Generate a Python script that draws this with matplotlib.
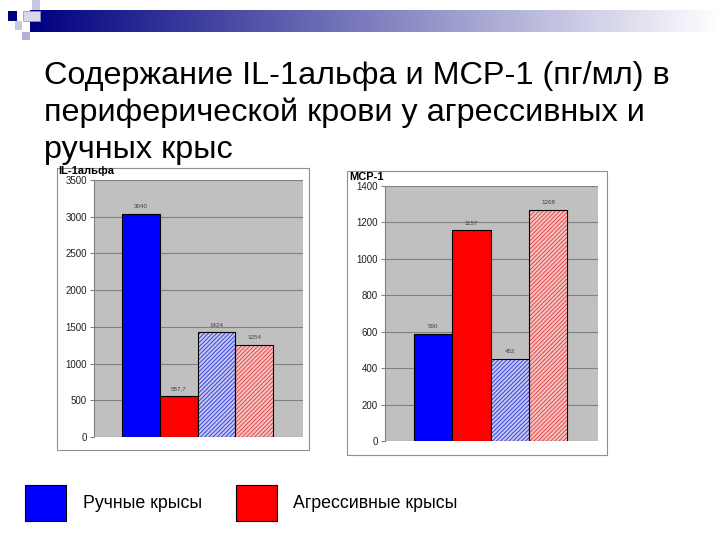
import numpy as np
import matplotlib
matplotlib.use("Agg")
import matplotlib.pyplot as plt
import matplotlib.patches as patches

plt.rcParams['font.family'] = ['Liberation Sans', 'DejaVu Sans']
plt.rcParams['hatch.linewidth'] = 0.7

# data
title_lines = ["Содержание IL-1альфа и МСР-1 (пг/мл) в",
               "периферической крови у агрессивных и",
               "ручных крыс"]
bars = ["blue", "red", "blue hatched", "red hatched"]
il1_values = [3040, 557.7, 1424, 1254]
il1_labels = ["3040", "557,7", "1424", "1254"]
mcp_values = [590, 1157, 452, 1268]
mcp_labels = ["590", "1157", "452", "1268"]
legend_names = ["Ручные крысы", "Агрессивные крысы"]

W, H = 720, 540
fig = plt.figure(figsize=(7.2, 5.4), dpi=100)


def px_rect(x0, y0, x1, y1, z=1, **kw):
    # rectangle in pixel coords (origin top-left)
    r = patches.Rectangle((x0 / W, 1 - y1 / H), (x1 - x0) / W, (y1 - y0) / H,
                          transform=fig.transFigure, zorder=z, **kw)
    fig.add_artist(r)
    return r


# ── header decoration ──
grad = np.linspace(0, 1, 256).reshape(1, -1)
gax = fig.add_axes([30 / W, 1 - 32 / H, (W - 30) / W, 22 / H])
navy = np.array([0.0, 0.0, 0.5])
img = navy[None, None, :] * (1 - grad[..., None]) + np.ones(3)[None, None, :] * grad[..., None]
gax.imshow(img, aspect="auto", extent=[0, 1, 0, 1])
gax.axis("off")
px_rect(8, 11, 17, 21, z=5, facecolor="#000080", edgecolor="none")
px_rect(23, 11, 40, 21, z=5, facecolor="#d8d8e8", edgecolor="#9090c0", lw=0.5)
px_rect(32, 0, 40, 10, z=5, facecolor="#c8c8e0", edgecolor="none")
px_rect(15, 21, 22, 30, z=5, facecolor="#c8c8e0", edgecolor="none")
px_rect(22, 32, 30, 40, z=5, facecolor="#b0b0d8", edgecolor="none")

# ── title ──
for i, line in enumerate(title_lines):
    fig.text(44 / W, 1 - (84 + i * 37) / H, line, fontsize=23.3, ha="left",
             va="baseline", color="black")

# ── chart frames (behind the axes) ──
px_rect(57, 168, 309, 450, z=-5, facecolor="white", edgecolor="#909090", lw=0.8)
px_rect(347, 171, 607, 455, z=-5, facecolor="white", edgecolor="#909090", lw=0.8)

solid_colors = ["#0000ff", "#ff0000"]
hatch_face = ["#c4c8f4", "#f6c4c4"]
hatch_col = ["#3b44d8", "#e24a4a"]


def draw_chart(rect, values, labels, ymax, step, name, name_xy):
    ax = fig.add_axes(rect)
    ax.set_facecolor("#c0c0c0")
    x = np.arange(len(values))
    ax.bar(x[:2], values[:2], width=1.0, color=solid_colors, edgecolor="black", lw=0.8, zorder=3)
    ax.bar(x[2:], values[2:], width=1.0, color=hatch_face, edgecolor=hatch_col,
           hatch="////////", lw=0, zorder=3)
    ax.bar(x[2:], values[2:], width=1.0, fill=False, edgecolor="black", lw=0.8, zorder=4)
    for xi, v, lab in zip(x, values, labels):
        ax.text(xi, v + ymax * 0.018, lab, ha="center", va="bottom", fontsize=4.5, color="#404040")
    ax.set_xlim(-1.25, 4.3)
    ax.set_ylim(0, ymax)
    ax.set_yticks(np.arange(0, ymax + 1, step))
    ax.set_xticks([])
    ax.grid(axis="y", color="#808080", lw=0.8, zorder=1)
    for s in ["top", "right", "bottom"]:
        ax.spines[s].set_visible(False)
    ax.spines["left"].set_color("#808080")
    ax.tick_params(axis="y", labelsize=7, length=3, color="#808080", labelcolor="#202020", pad=2)
    fig.text(name_xy[0] / W, 1 - name_xy[1] / H, name, fontsize=8, fontweight="bold",
             ha="left", va="baseline")
    return ax


draw_chart([94 / W, 1 - 437 / H, 209 / W, 257 / H], il1_values, il1_labels, 3500, 500,
           "IL-1альфа", (58, 174.5))
draw_chart([385 / W, 1 - 441 / H, 213 / W, 255 / H], mcp_values, mcp_labels, 1400, 200,
           "МСР-1", (349, 180.5))

# ── legend ──
px_rect(25, 485, 66, 521, facecolor=solid_colors[0], edgecolor="black", lw=0.8)
fig.text(83 / W, 1 - 503 / H, legend_names[0], fontsize=12.8, va="center", ha="left")
px_rect(236, 485, 277, 521, facecolor=solid_colors[1], edgecolor="black", lw=0.8)
fig.text(293 / W, 1 - 503 / H, legend_names[1], fontsize=12.8, va="center", ha="left")

fig.savefig("out.png", dpi=100)
